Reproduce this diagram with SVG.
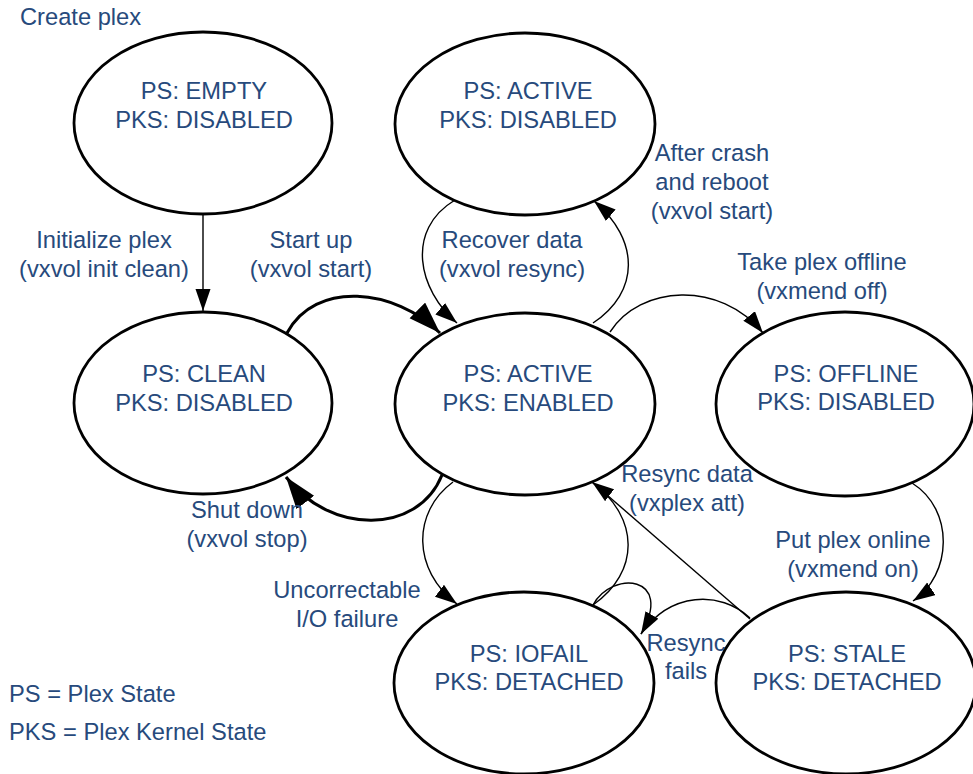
<svg xmlns="http://www.w3.org/2000/svg" width="973" height="774" viewBox="0 0 973 774">
<style>
.n ellipse{fill:#fff;stroke:#000;stroke-width:2.8}
text{font-family:"Liberation Sans",Arial,sans-serif;font-size:23.7px;fill:#274a7c}
.c{text-anchor:middle}
.e{fill:none;stroke:#000;stroke-width:1.4}
.t{fill:none;stroke:#000;stroke-width:3}
</style>
<defs>
<marker id="a" markerUnits="userSpaceOnUse" markerWidth="24" markerHeight="16" refX="22" refY="7.5" orient="auto"><path d="M0,0 L22,7.5 L0,15 z" fill="#000"/></marker>
<marker id="b" markerUnits="userSpaceOnUse" markerWidth="34" markerHeight="24" refX="32" refY="11" orient="auto"><path d="M0,0 L32,11 L0,22 z" fill="#000"/></marker>
</defs>
<rect width="973" height="774" fill="#fff"/>
<g id="connectors">
<path class="e" d="M203,214 L203,311" marker-end="url(#a)"/>
<path class="t" d="M287,333 C315,280 395,288 440,333" marker-end="url(#b)"/>
<path class="t" d="M442,475 C418,535 330,535 286,477" marker-end="url(#b)"/>
<path class="e" d="M455,200 C405,230 418,290 457,323" marker-end="url(#a)"/>
<path class="e" d="M593,323 C640,292 640,240 594,201" marker-end="url(#a)"/>
<path class="e" d="M610,332 C640,285 720,280 763,333" marker-end="url(#a)"/>
<path class="e" d="M912,483 C955,510 952,575 913,601" marker-end="url(#a)"/>
<path class="e" d="M453,482 C412,512 412,570 457,604" marker-end="url(#a)"/>
<path class="e" d="M593,605 C640,572 640,518 592,482" marker-end="url(#a)"/>
<path class="e" d="M750,619 L592,482"/>
<path class="e" d="M593,605 C612,570 675,575 641,634" marker-end="url(#a)"/>
<path class="e" d="M750,618 C720,590 670,592 641,634"/>
</g>
<g id="n-empty" class="n"><ellipse cx="203" cy="123" rx="129" ry="91"/><text class="c" x="204" y="99">PS: EMPTY</text><text class="c" x="204" y="128">PKS: DISABLED</text></g>
<g id="n-active-disabled" class="n"><ellipse cx="525" cy="124" rx="130" ry="91"/><text class="c" x="528" y="99">PS: ACTIVE</text><text class="c" x="528" y="128">PKS: DISABLED</text></g>
<g id="n-clean" class="n"><ellipse cx="203" cy="403" rx="129" ry="91"/><text class="c" x="204" y="382">PS: CLEAN</text><text class="c" x="204" y="411">PKS: DISABLED</text></g>
<g id="n-active-enabled" class="n"><ellipse cx="525" cy="404" rx="130" ry="91"/><text class="c" x="528" y="382">PS: ACTIVE</text><text class="c" x="528" y="411">PKS: ENABLED</text></g>
<g id="n-offline" class="n"><ellipse cx="845" cy="404" rx="129" ry="92"/><text class="c" x="846" y="382">PS: OFFLINE</text><text class="c" x="846" y="410">PKS: DISABLED</text></g>
<g id="n-iofail" class="n"><ellipse cx="524" cy="683" rx="130" ry="91"/><text class="c" x="529" y="662">PS: IOFAIL</text><text class="c" x="529" y="690">PKS: DETACHED</text></g>
<g id="n-stale" class="n"><ellipse cx="846" cy="683" rx="130" ry="91"/><text class="c" x="847" y="662">PS: STALE</text><text class="c" x="847" y="690">PKS: DETACHED</text></g>
<g id="labels">
<text x="20" y="25">Create plex</text>
<text class="c" x="104" y="248">Initialize plex</text>
<text class="c" x="104" y="277">(vxvol init clean)</text>
<text class="c" x="311" y="248">Start up</text>
<text class="c" x="311" y="277">(vxvol start)</text>
<text class="c" x="512" y="248">Recover data</text>
<text class="c" x="512" y="277">(vxvol resync)</text>
<text class="c" x="712" y="161">After crash</text>
<text class="c" x="712" y="190">and reboot</text>
<text class="c" x="712" y="219">(vxvol start)</text>
<text class="c" x="822" y="270">Take plex offline</text>
<text class="c" x="822" y="299">(vxmend off)</text>
<text class="c" x="247" y="518">Shut down</text>
<text class="c" x="247" y="547">(vxvol stop)</text>
<text class="c" x="687" y="482">Resync data</text>
<text class="c" x="687" y="511">(vxplex att)</text>
<text class="c" x="853" y="548">Put plex online</text>
<text class="c" x="853" y="577">(vxmend on)</text>
<text class="c" x="347" y="598">Uncorrectable</text>
<text class="c" x="347" y="627">I/O failure</text>
<text class="c" x="686" y="651">Resync</text>
<text class="c" x="686" y="679">fails</text>
<text x="9" y="702">PS = Plex State</text>
<text x="9" y="740">PKS = Plex Kernel State</text>
</g>
</svg>
